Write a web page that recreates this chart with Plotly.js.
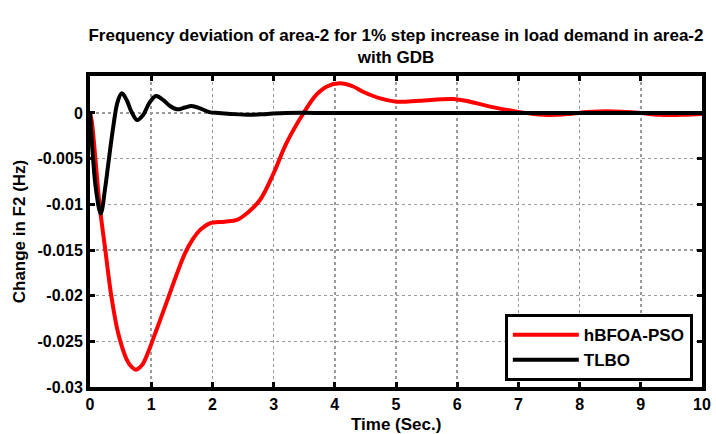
<!DOCTYPE html>
<html>
<head>
<meta charset="utf-8">
<script src="https://cdn.plot.ly/plotly-3.0.1.min.js"></script>
<style>
  html, body { margin: 0; padding: 0; background: #fff; }
  #chart { width: 716px; height: 434px; }
</style>
</head>
<body>
<div id="chart"></div>
<script>
// Frequency deviation of area-2 (Hz) versus time (s), two controller tunings
const seriesNames = ['hBFOA-PSO', 'TLBO'];

const timeHbfoa = [0, 0.03, 0.08, 0.12, 0.16, 0.25, 0.35, 0.46, 0.6, 0.68, 0.75, 0.85, 0.95, 1.05, 1.15, 1.28, 1.42, 1.55, 1.68, 1.8, 1.95, 2.2, 2.4, 2.56, 2.78, 3.0, 3.21, 3.49, 3.7, 3.87, 4.08, 4.3, 4.47, 4.74, 5.01, 5.39, 5.94, 6.21, 6.54, 6.97, 7.25, 7.52, 7.84, 8.13, 8.45, 8.77, 9.0, 9.3, 9.69, 10];
const dfHbfoa = [0, -0.0010, -0.0044, -0.0075, -0.0103, -0.0150, -0.0201, -0.0241, -0.0270, -0.0278, -0.0281, -0.0276, -0.0262, -0.0244, -0.0226, -0.0202, -0.0176, -0.0154, -0.0138, -0.0128, -0.0121, -0.0119, -0.0117, -0.0110, -0.0095, -0.0066, -0.0033, 0.0000, 0.0020, 0.0029, 0.00325, 0.0029, 0.0023, 0.0016, 0.00124, 0.00135, 0.00153, 0.00124, 0.0007, 0.00015, -0.0001, -0.00022, -0.0001, 0.0001, 0.0002, 0.0001, 0, -0.0002, -0.0002, -0.0001];

const timeTlbo = [0, 0.05, 0.1, 0.175, 0.25, 0.3, 0.38, 0.45, 0.52, 0.6, 0.68, 0.77, 0.87, 0.97, 1.08, 1.2, 1.3, 1.42, 1.55, 1.66, 1.8, 1.95, 2.1, 2.3, 2.61, 2.9, 3.2, 4, 5, 6, 7, 8, 9, 10];
const dfTlbo = [0, -0.0050, -0.0085, -0.0110, -0.0081, -0.0055, -0.0015, 0.0012, 0.00216, 0.0014, 0.0001, -0.00077, -0.0002, 0.0011, 0.00186, 0.0014, 0.0008, 0.0004, 0.0006, 0.00077, 0.0005, 0.0001, 0.0000, -0.0001, -0.0002, -0.0001, 0, 0, 0, 0, 0, 0, 0, 0];

const xTickVals = [0, 1, 2, 3, 4, 5, 6, 7, 8, 9, 10];
const xTickText = ['0', '1', '2', '3', '4', '5', '6', '7', '8', '9', '10'];
const yTickVals = [0, -0.005, -0.01, -0.015, -0.02, -0.025, -0.03];
const yTickText = ['0', '-0.005', '-0.01', '-0.015', '-0.02', '-0.025', '-0.03'];

const FONT = 'Liberation Sans, Arial, Helvetica, sans-serif';
const labelFont = { family: FONT, size: 17, color: '#000', weight: 'bold' };

const traces = [
  {
    x: timeHbfoa, y: dfHbfoa, name: seriesNames[0], mode: 'lines',
    line: { color: '#ff0000', width: 4, shape: 'spline', smoothing: 1 }
  },
  {
    x: timeTlbo, y: dfTlbo, name: seriesNames[1], mode: 'lines',
    line: { color: '#000000', width: 4, shape: 'spline', smoothing: 1 }
  }
];

const axisCommon = {
  showline: true, linecolor: '#000', linewidth: 4, mirror: 'ticks',
  ticks: 'inside', ticklen: 5, tickwidth: 3, tickcolor: '#000',
  showgrid: true, gridcolor: '#9a9a9a', gridwidth: 1.5, griddash: 'dot',
  zeroline: false,
  tickfont: { family: FONT, size: 16, color: '#000', weight: 'bold' }
};

const layout = {
  width: 716, height: 434,
  margin: { l: 90, r: 14, t: 76, b: 47 },
  paper_bgcolor: '#fff', plot_bgcolor: '#fff',
  title: {
    text: 'Frequency deviation of area-2 for 1% step increase in load demand in area-2<br>with GDB',
    font: { family: FONT, size: 17, color: '#000', weight: 'bold' },
    x: 0.553, xanchor: 'center', y: 0.905, yanchor: 'top'
  },
  xaxis: Object.assign({}, axisCommon, {
    range: [0, 10], tickmode: 'array', tickvals: xTickVals, ticktext: xTickText
  }),
  yaxis: Object.assign({}, axisCommon, {
    range: [-0.03, 0.00405], tickmode: 'array', tickvals: yTickVals, ticktext: yTickText,
    title: { text: 'Change in F2 (Hz)', font: labelFont, standoff: 8 }
  }),
  // x-axis label placed low, just above the bottom edge of the page
  annotations: [
    {
      text: 'Time (Sec.)', xref: 'paper', yref: 'paper', x: 0.5, y: 0,
      xanchor: 'center', yanchor: 'top', yshift: -26, showarrow: false,
      font: labelFont
    }
  ],
  showlegend: true,
  legend: {
    x: 0.985, xanchor: 'right', y: 0.019, yanchor: 'bottom',
    bgcolor: '#fff', bordercolor: '#000', borderwidth: 3,
    font: { family: FONT, size: 17, color: '#000', weight: 'bold' },
    itemwidth: 66, tracegroupgap: 0
  }
};

Plotly.newPlot('chart', traces, layout, { displayModeBar: false, staticPlot: true });
</script>
</body>
</html>
